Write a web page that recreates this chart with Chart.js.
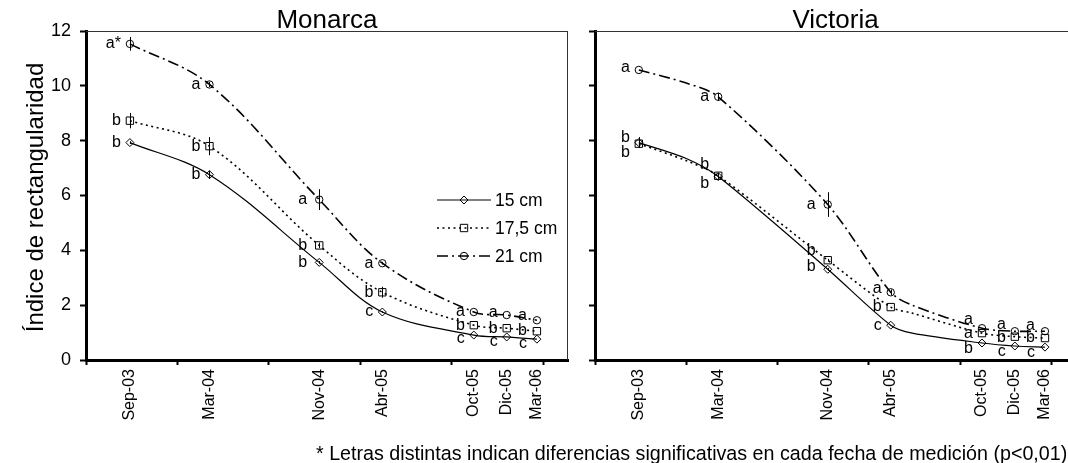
<!DOCTYPE html>
<html><head><meta charset="utf-8">
<script src="https://cdn.jsdelivr.net/npm/chart.js@4.4.1/dist/chart.umd.min.js"></script>
<style>
html,body{margin:0;padding:0;background:#fff;overflow:hidden;width:1068px;height:463px;}
#wrap{position:relative;width:1068px;height:463px;overflow:hidden;background:#fff;}
#c1{position:absolute;left:0;top:0;}
#c2{position:absolute;left:576px;top:0;}
#note{position:absolute;left:316px;top:443px;font-family:"Liberation Sans",Arial,sans-serif;font-size:19.7px;line-height:20px;white-space:nowrap;color:#000;}
</style></head>
<body>
<div id="wrap">
<canvas id="c1" width="576" height="463"></canvas>
<canvas id="c2" width="510" height="463"></canvas>
<div id="note">* Letras distintas indican diferencias significativas en cada fecha de medición (p&lt;0,01)</div>
</div>
<script>
// ---------------- DATA ----------------
const DATE_LABELS = ['Sep-03','Mar-04','Nov-04','Abr-05','Oct-05','Dic-05','Mar-06'];
const DATE_X = [96, 270, 510, 648, 848, 920, 986];   // days from origin
const X_MAX = 1054;
const AXIS_MARKS = [0, 200, 400, 600, 800, 1000];
const Y_TICKS = [0, 2, 4, 6, 8, 10, 12];
const SERIES_NAMES = ['15 cm', '17,5 cm', '21 cm'];

// Monarca
const MON_15  = [7.93, 6.76, 3.56, 1.75, 0.91, 0.84, 0.76];
const MON_175 = [8.73, 7.80, 4.18, 2.47, 1.27, 1.16, 1.05];
const MON_21  = [11.53, 10.05, 5.85, 3.53, 1.75, 1.64, 1.45];
const MON_15_ERR  = [0.05, 0.15, 0.05, 0.03, 0, 0, 0];
const MON_175_ERR = [0.28, 0.33, 0.10, 0.20, 0, 0, 0];
const MON_21_ERR  = [0.25, 0.10, 0.38, 0.05, 0, 0, 0];
const MON_15_LET  = ['b','b','b','c','c','c','c'];
const MON_175_LET = ['b','b','b','b','b','b','b'];
const MON_21_LET  = ['a*','a','a','a','a','a','a'];

// Victoria
const VIC_15  = [7.93, 6.69, 3.31, 1.27, 0.62, 0.51, 0.47];
const VIC_175 = [7.89, 6.72, 3.64, 1.93, 0.98, 0.85, 0.80];
const VIC_21  = [10.58, 9.60, 5.67, 2.47, 1.16, 1.05, 1.05];
const VIC_EXTRA_X   = [200, 695];
const VIC_15_EXTRA  = [7.35, 0.98];
const VIC_175_EXTRA = [7.27, 1.71];
const VIC_21_EXTRA  = [10.10, 2.00];
const VIC_15_ERR  = [0.20, 0.10, 0.05, 0, 0, 0, 0];
const VIC_175_ERR = [0.10, 0.10, 0.05, 0, 0, 0, 0];
const VIC_21_ERR  = [0, 0.15, 0.45, 0.10, 0, 0, 0];
const VIC_15_LET  = ['b','b','b','c','b','c','c'];
const VIC_175_LET = ['b','b','b','b','a','b','b'];
const VIC_21_LET  = ['a','a','a','a','a','a','a'];

// ---------------- STYLE ----------------
const FONT = '"Liberation Sans", Arial, sans-serif';
Chart.defaults.font.family = FONT;
Chart.defaults.color = '#000';

const STYLES = [
  {dash: [], width: 1.2, pointStyle: 'rectRot', radius: 4.0},
  {dash: [2, 3.5], width: 1.6, pointStyle: 'rect', radius: 5.2},
  {dash: [11, 4, 2, 4], width: 1.6, pointStyle: 'circle', radius: 3.7}
];
// label nudges (px) [series][date]
const MON_NUDGE_DY = [
  [0, 0, 0, 0, 4, 5, 4],
  [0, 0, 0, 0, 0, 0, -1],
  [0, 0, 0, 0, 0, -2, -5]
];
const VIC_NUDGE_DY = [
  [-5, 7, -3, 0, 6, 6, 5],
  [9, -11, -10, 0, 0, 1, 0],
  [-2, 0, 0, -4, -9, -7, -6]
];
const NUDGE_DX = [-9, -9, -12, -9, -9, -9, -10];

function pts(xs, ys) { return xs.map((x, i) => ({x: x, y: ys[i]})); }
function merged(xs, ys, ex, ey) {
  const a = pts(xs, ys).concat(ex ? pts(ex, ey) : []);
  a.sort((p, q) => p.x - q.x);
  return a;
}

function buildDatasets(series, tension) {
  const ds = [];
  series.forEach((s, k) => {
    const st = STYLES[k];
    ds.push({
      label: SERIES_NAMES[k], data: merged(DATE_X, s.values, s.extraX, s.extra),
      showLine: true, pointRadius: 0, borderColor: '#000', borderWidth: st.width,
      borderDash: st.dash, tension: tension, fill: false, order: 2
    });
    ds.push({
      label: SERIES_NAMES[k] + ' pts', data: pts(DATE_X, s.values),
      showLine: false, pointStyle: st.pointStyle, pointRadius: st.radius,
      pointBorderColor: '#000', pointBackgroundColor: 'rgba(0,0,0,0)', pointBorderWidth: 1, order: 1
    });
  });
  return ds;
}

function annotPlugin(series, nudge) {
  return {
    id: 'annot',
    afterDatasetsDraw(chart) {
      const ctx = chart.ctx, xs = chart.scales.x, ys = chart.scales.y;
      ctx.save();
      ctx.strokeStyle = '#000'; ctx.lineWidth = 1;
      series.forEach((s, k) => {
        s.values.forEach((v, i) => {
          const px = xs.getPixelForValue(DATE_X[i]);
          const e = s.err[i];
          if (e > 0) {
            ctx.beginPath();
            ctx.moveTo(Math.round(px) + 0.5, ys.getPixelForValue(v + e));
            ctx.lineTo(Math.round(px) + 0.5, ys.getPixelForValue(v - e));
            ctx.stroke();
          }
        });
      });
      ctx.fillStyle = '#000';
      ctx.font = '16px ' + FONT;
      ctx.textAlign = 'right'; ctx.textBaseline = 'middle';
      series.forEach((s, k) => {
        s.values.forEach((v, i) => {
          const px = xs.getPixelForValue(DATE_X[i]);
          const py = ys.getPixelForValue(v);
          ctx.fillText(s.letters[i], px + NUDGE_DX[i], py + nudge[k][i]);
        });
      });
      ctx.restore();
    }
  };
}

function framePlugin(title, drawRight, yTitle) {
  return {
    id: 'frame',
    afterDraw(chart) {
      const ctx = chart.ctx, a = chart.chartArea;
      ctx.save();
      ctx.strokeStyle = '#333'; ctx.lineWidth = 1;
      ctx.beginPath();
      ctx.moveTo(a.left, a.top + 0.5); ctx.lineTo(a.right, a.top + 0.5);
      if (drawRight) { ctx.moveTo(a.right - 0.5, a.top); ctx.lineTo(a.right - 0.5, a.bottom); }
      ctx.stroke();
      ctx.fillStyle = '#000';
      ctx.font = '26px ' + FONT;
      ctx.textAlign = 'center'; ctx.textBaseline = 'alphabetic';
      ctx.fillText(title, (a.left + a.right) / 2, a.top - 3);
      if (yTitle) {
        ctx.save();
        ctx.translate(43, (a.top + a.bottom) / 2 + 2);
        ctx.rotate(-Math.PI / 2);
        ctx.font = '24px ' + FONT;
        ctx.textAlign = 'center'; ctx.textBaseline = 'alphabetic';
        ctx.fillText(yTitle, 0, 0);
        ctx.restore();
      }
      ctx.restore();
    }
  };
}

const legendPlugin = {
  id: 'legendBox',
  afterDraw(chart) {
    const ctx = chart.ctx, a = chart.chartArea;
    ctx.save();
    SERIES_NAMES.forEach((name, i) => {
      const st = STYLES[i];
      const y = a.top + 169 + i * 28;
      const x0 = a.left + 351, x1 = a.left + 405;
      ctx.strokeStyle = '#000'; ctx.lineWidth = st.width;
      ctx.setLineDash(st.dash);
      ctx.beginPath(); ctx.moveTo(x0, y); ctx.lineTo(x1, y); ctx.stroke();
      ctx.setLineDash([]);
      ctx.lineWidth = 1; ctx.fillStyle = 'rgba(0,0,0,0)';
      Chart.helpers.drawPoint(ctx, {pointStyle: st.pointStyle, radius: st.radius, borderWidth: 1, rotation: 0}, (x0 + x1) / 2, y);
      ctx.fillStyle = '#000';
      ctx.font = '17.5px ' + FONT;
      ctx.textAlign = 'left'; ctx.textBaseline = 'middle';
      ctx.fillText(name, x1 + 4, y + 1);
    });
    ctx.restore();
  }
};

function makeScales(yWidth, showYLabels) {
  return {
    x: {
      type: 'linear', position: 'bottom', min: 0, max: X_MAX,
      afterBuildTicks(s) { s.ticks = AXIS_MARKS.map(v => ({value: v})); },
      ticks: {display: false},
      grid: {drawOnChartArea: false, drawTicks: true, tickLength: 5, tickWidth: 2, color: '#000'},
      border: {display: true, width: 3, color: '#000'},
      afterFit(s) { s.height = 6; }
    },
    xl: {
      type: 'linear', position: 'bottom', min: 0, max: X_MAX,
      afterBuildTicks(s) { s.ticks = DATE_X.map(v => ({value: v})); },
      ticks: {
        autoSkip: false, minRotation: 90, maxRotation: 90, padding: 3,
        font: {size: 16, family: FONT}, color: '#000',
        callback: (v) => DATE_LABELS[DATE_X.indexOf(v)]
      },
      grid: {display: false, drawTicks: false},
      border: {display: false},
      afterFit(s) { s.height = 97; }
    },
    y: {
      type: 'linear', min: 0, max: 12,
      afterBuildTicks(s) { s.ticks = Y_TICKS.map(v => ({value: v})); },
      ticks: {display: showYLabels, font: {size: 18, family: FONT}, color: '#000', padding: 9},
      grid: {drawOnChartArea: false, drawTicks: true, tickLength: 6, tickWidth: 2, color: '#000'},
      border: {display: true, width: 3, color: '#000'},
      afterFit(s) { s.width = yWidth; }
    }
  };
}

const MON_SERIES = [
  {values: MON_15, err: MON_15_ERR, letters: MON_15_LET},
  {values: MON_175, err: MON_175_ERR, letters: MON_175_LET},
  {values: MON_21, err: MON_21_ERR, letters: MON_21_LET}
];
const VIC_SERIES = [
  {values: VIC_15, err: VIC_15_ERR, letters: VIC_15_LET, extraX: VIC_EXTRA_X, extra: VIC_15_EXTRA},
  {values: VIC_175, err: VIC_175_ERR, letters: VIC_175_LET, extraX: VIC_EXTRA_X, extra: VIC_175_EXTRA},
  {values: VIC_21, err: VIC_21_ERR, letters: VIC_21_LET, extraX: VIC_EXTRA_X, extra: VIC_21_EXTRA}
];

const common = {
  responsive: false, animation: false, devicePixelRatio: 1,
  plugins: {legend: {display: false}, tooltip: {enabled: false}, title: {display: false}},
  events: []
};

new Chart(document.getElementById('c1'), {
  type: 'scatter',
  data: {datasets: buildDatasets(MON_SERIES, 0.35)},
  options: Object.assign({}, common, {
    layout: {padding: {left: 0, right: 8, top: 31, bottom: 0}, autoPadding: false},
    scales: makeScales(86, true)
  }),
  plugins: [annotPlugin(MON_SERIES, MON_NUDGE_DY), framePlugin('Monarca', true, 'Índice de rectangularidad'), legendPlugin]
});

new Chart(document.getElementById('c2'), {
  type: 'scatter',
  data: {datasets: buildDatasets(VIC_SERIES, 0.3)},
  options: Object.assign({}, common, {
    layout: {padding: {left: 0, right: 10, top: 31, bottom: 0}, autoPadding: false},
    scales: makeScales(19, false)
  }),
  plugins: [annotPlugin(VIC_SERIES, VIC_NUDGE_DY), framePlugin('Victoria', false, null)]
});
</script>
</body></html>
